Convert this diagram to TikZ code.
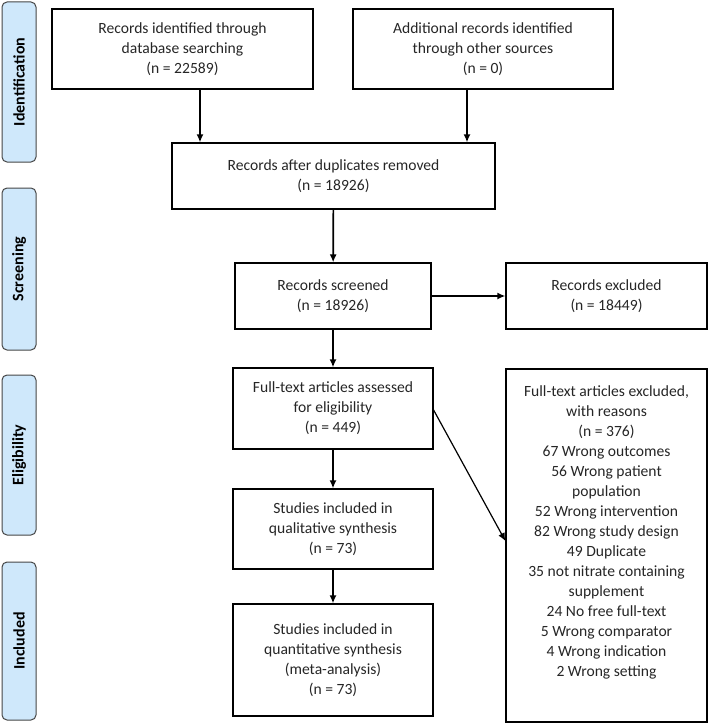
\documentclass[tikz,border=0pt]{standalone}
\usepackage{fontspec}
\setmainfont{Carlito}
\usetikzlibrary{arrows.meta,graphs}
\definecolor{stagefill}{RGB}{207,232,251}
\definecolor{stageline}{RGB}{70,70,70}
\tikzset{
    stage/.style ={
        shape=rectangle,
        rounded corners=5pt,
        draw=stageline,
        fill=stagefill,
        line width=1pt,
        rotate=90,
        minimum height=34pt,
        inner sep=0pt,
        font=\fontsize{16}{19}\selectfont\bfseries
    },
    record/.style ={
        shape=rectangle,
        draw=black,
        line width=1.2pt,
        align=center,
        inner sep=0pt,
        text=black!85,
        font=\fontsize{15.6}{20}\selectfont
    },
    flow/.style ={
        line width=1.7pt,
        -{Latex[length=8pt,width=7pt]}
    }
}

\begin{document}
\begin{tikzpicture}[x=1pt,y=-1pt,
    every edge/.append style={line width=1.7pt,-{Latex[length=8pt,width=7pt]}}]
    \useasboundingbox (0,0) rectangle (709,725);
    % phases
    \node[stage,minimum width=160pt] (ident) at(19,82) {Identification};
    \node[stage,minimum width=162pt] (screen) at(19,269) {Screening};
    \node[stage,minimum width=160pt] (elig) at(19,455) {Eligibility};
    \node[stage,minimum width=158pt] (incl) at(19,641) {Included};
    % records
    \node[record,minimum width=261pt,minimum height=80pt] (dbsearch) at(182.5,49)
        {Records identified through\\database searching\\(n = 22589)};
    \node[record,minimum width=260pt,minimum height=80pt] (othersrc) at(483,49)
        {Additional records identified\\through other sources\\(n = 0)};
    \node[record,minimum width=323pt,minimum height=66pt] (dedup) at(333.5,176)
        {Records after duplicates removed\\(n = 18926)};
    \node[record,minimum width=196pt,minimum height=66pt] (screened) at(333,296)
        {Records screened\\(n = 18926)};
    \node[record,minimum width=201pt,minimum height=66pt] (excluded) at(606.5,296)
        {Records excluded\\(n = 18449)};
    \node[record,minimum width=200pt,minimum height=81pt] (fulltext) at(333,408.5)
        {Full-text articles assessed\\for eligibility\\(n = 449)};
    \node[record,minimum width=201pt,minimum height=353pt] (ftexcl) at(606.5,545.5)
        {Full-text articles excluded,\\with reasons\\(n = 376)\\67 Wrong outcomes\\56 Wrong patient\\population\\52 Wrong intervention\\82 Wrong study design\\49 Duplicate\\35 not nitrate containing\\supplement\\24 No free full-text\\5 Wrong comparator\\4 Wrong indication\\2 Wrong setting\\[9pt]~};
    \node[record,minimum width=200pt,minimum height=80pt] (qual) at(333,529)
        {Studies included in\\qualitative synthesis\\(n = 73)};
    \node[record,minimum width=200pt,minimum height=112pt] (quant) at(333,660)
        {Studies included in\\quantitative synthesis\\(meta-analysis)\\(n = 73)};
    \draw[flow] (dbsearch.south -| 200,0) -- (dedup.north -| 200,0);
    \draw[flow] (othersrc.south -| 467,0) -- (dedup.north -| 467,0);
    \graph{
        (dedup)->(screened)->(fulltext)->(qual)->(quant);
        (screened)->(excluded);
    };
    \draw[line width=1.2pt,-{Latex[length=8pt,width=7pt]}] (fulltext.east |- 0,410) -- (ftexcl.west |- 0,541);
\end{tikzpicture}
\end{document}
